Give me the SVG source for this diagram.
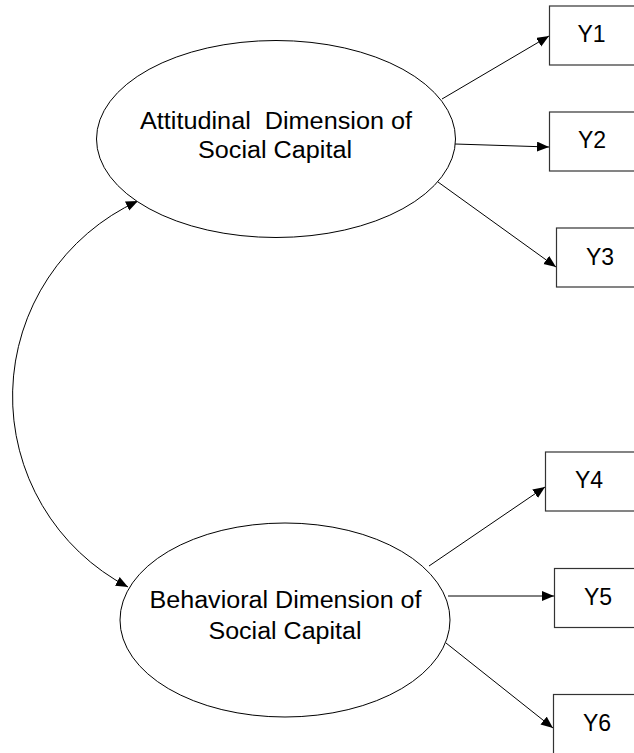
<svg xmlns="http://www.w3.org/2000/svg" width="634" height="753" viewBox="0 0 634 753">
<style>
.bg{fill:#ffffff}
.lat{fill:#ffffff;stroke:#000000;stroke-width:1}
.obs{fill:#ffffff;stroke:#333333;stroke-width:1.2}
.lbl{font-family:"Liberation Sans",Arial,sans-serif;font-size:23px;fill:#000000;text-anchor:middle;white-space:pre}
.ylbl{font-family:"Liberation Sans",Arial,sans-serif;font-size:23px;fill:#000000;text-anchor:middle}
.edge{fill:none;stroke:#000000;stroke-width:1}
</style>
<defs>
<marker id="arr" markerUnits="userSpaceOnUse" markerWidth="14" markerHeight="12" refX="12" refY="5" orient="auto-start-reverse">
<path d="M0,0 L12,5 L0,10 z" fill="#000000"/>
</marker>
</defs>
<rect class="bg" x="0" y="0" width="634" height="753"/>
<g id="connectors">
<path class="edge" d="M138,201 A215,215 0 0 0 128,587" marker-start="url(#arr)" marker-end="url(#arr)"/>
<line class="edge" x1="442" y1="99" x2="549" y2="36" marker-end="url(#arr)"/>
<line class="edge" x1="455" y1="144" x2="549" y2="147" marker-end="url(#arr)"/>
<line class="edge" x1="438" y1="182" x2="556" y2="267" marker-end="url(#arr)"/>
<line class="edge" x1="429" y1="566" x2="545" y2="487" marker-end="url(#arr)"/>
<line class="edge" x1="448" y1="596" x2="554" y2="596" marker-end="url(#arr)"/>
<line class="edge" x1="446" y1="643" x2="553" y2="728" marker-end="url(#arr)"/>
</g>
<g id="attitudinal">
<ellipse class="lat" cx="276" cy="139" rx="179.5" ry="98.5"/>
<text class="lbl" x="276" y="129" textLength="272" lengthAdjust="spacingAndGlyphs" xml:space="preserve">Attitudinal  Dimension of</text>
<text class="lbl" x="275" y="158" textLength="154" lengthAdjust="spacingAndGlyphs">Social Capital</text>
</g>
<g id="behavioral">
<ellipse class="lat" cx="285" cy="620" rx="165" ry="97"/>
<text class="lbl" x="285.5" y="608" textLength="272" lengthAdjust="spacingAndGlyphs">Behavioral Dimension of</text>
<text class="lbl" x="285" y="639" textLength="153" lengthAdjust="spacingAndGlyphs">Social Capital</text>
</g>
<g id="Y1"><rect class="obs" x="549.5" y="6" width="100" height="59"/><text class="ylbl" x="591.5" y="42">Y1</text></g>
<g id="Y2"><rect class="obs" x="549.5" y="112" width="100" height="59"/><text class="ylbl" x="592" y="148">Y2</text></g>
<g id="Y3"><rect class="obs" x="556.5" y="228" width="100" height="59"/><text class="ylbl" x="600" y="265">Y3</text></g>
<g id="Y4"><rect class="obs" x="545.5" y="452" width="100" height="59"/><text class="ylbl" x="589" y="488">Y4</text></g>
<g id="Y5"><rect class="obs" x="554.5" y="568.5" width="100" height="59"/><text class="ylbl" x="598" y="605">Y5</text></g>
<g id="Y6"><rect class="obs" x="553.5" y="694.5" width="100" height="80"/><text class="ylbl" x="597" y="731">Y6</text></g>
</svg>
